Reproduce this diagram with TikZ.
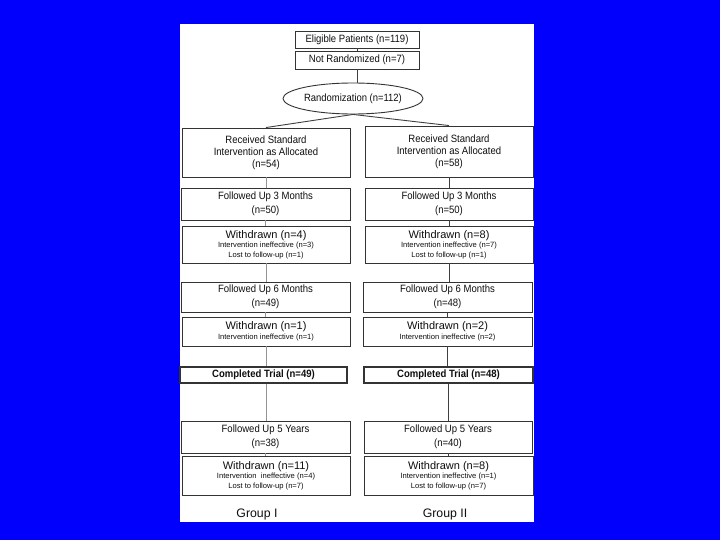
\documentclass[tikz,border=0pt]{standalone}
\usepackage{fontspec}
\setmainfont{Liberation Sans}
\newfontfamily\condfont[FakeStretch=0.9]{Liberation Sans}
\usetikzlibrary{shapes.geometric}
\definecolor{bgblue}{RGB}{0,0,252}
\definecolor{ink}{RGB}{15,15,15}
\tikzset{
  box/.style={draw=ink!85, line width=0.9pt, inner sep=0pt, align=center, text=ink,
    font=\condfont\fontsize{10.6}{14}\selectfont},
  recbox/.style={box, minimum width=168pt, minimum height=49pt, font=\condfont\fontsize{10.6}{12}\selectfont},
  fbox/.style={box, minimum width=169pt, minimum height=32pt},
  wbox/.style={box, minimum width=168pt, font=\fontsize{7.6}{9.5}\selectfont},
  topbox/.style={box, minimum width=124pt, minimum height=17pt},
  ctbox/.style={box, line width=1.8pt, minimum width=167pt, minimum height=16pt,
    font=\condfont\bfseries\fontsize{10.6}{12}\selectfont},
  ell/.style={draw=ink!85, line width=0.9pt, ellipse, inner sep=0pt, text=ink,
    minimum width=140pt, minimum height=31pt, font=\condfont\fontsize{10.5}{12}\selectfont},
  conn/.style={draw=ink!80, line width=0.9pt},
  connL/.style={draw=ink!45, line width=0.9pt},
  grp/.style={text=ink, font=\fontsize{12.3}{14}\selectfont, inner sep=0pt}
}
\newcommand{\wt}[1]{{\fontsize{11}{12}\selectfont #1}}
\begin{document}
\begin{tikzpicture}[x=1pt,y=-1pt]
\fill[bgblue] (0,0) rectangle (720,540);
\useasboundingbox (0,0) rectangle (720,540);
\fill[white] (180,24) rectangle (534,522);

\node[topbox] (elig) at (357,39.5) {Eligible Patients (n=119)};
\node[topbox, minimum height=18pt] (notr) at (357,60) {Not Randomized (n=7)};
\node[ell] (rand) at (353,98.5) {Randomization (n=112)};

\node[recbox] (recL) at (266,152.5) {Received Standard\\Intervention as Allocated\\(n=54)};
\node[recbox, minimum height=51pt] (recR) at (449,151.5) {Received Standard\\Intervention as Allocated\\(n=58)};

\node[fbox] (f3L) at (265.5,204) {Followed Up 3 Months\\(n=50)};
\node[fbox, minimum width=168pt] (f3R) at (449,204) {Followed Up 3 Months\\(n=50)};

\node[wbox, minimum height=37pt] (w1L) at (266,244.5) {\wt{Withdrawn (n=4)}\\Intervention ineffective (n=3)\\Lost to follow-up (n=1)};
\node[wbox, minimum height=37pt] (w1R) at (449,244.5) {\wt{Withdrawn (n=8)}\\Intervention ineffective (n=7)\\Lost to follow-up (n=1)};

\node[fbox, minimum height=30pt] (f6L) at (265.5,297) {Followed Up 6 Months\\(n=49)};
\node[fbox, minimum height=30pt] (f6R) at (447.5,297) {Followed Up 6 Months\\(n=48)};

\node[wbox, minimum height=29pt] (w2L) at (266,331.5) {\wt{Withdrawn (n=1)}\\Intervention ineffective (n=1)};
\node[wbox, minimum height=29pt, minimum width=169pt] (w2R) at (447.5,331.5) {\wt{Withdrawn (n=2)}\\Intervention ineffective (n=2)};

\node[ctbox] (ctL) at (263.5,375) {Completed Trial (n=49)};
\node[ctbox, minimum width=169pt] (ctR) at (448.5,375) {Completed Trial (n=48)};

\node[fbox] (f5L) at (265.5,437) {Followed Up 5 Years\\(n=38)};
\node[fbox, minimum width=168pt] (f5R) at (448,437) {Followed Up 5 Years\\(n=40)};

\node[wbox, minimum height=39pt] (w3L) at (266,475.5) {\wt{Withdrawn (n=11)}\\Intervention\ \ ineffective (n=4)\\Lost to follow-up (n=7)};
\node[wbox, minimum height=39pt, minimum width=169pt] (w3R) at (448.5,475.5) {\wt{Withdrawn (n=8)}\\Intervention ineffective (n=1)\\Lost to follow-up (n=7)};

\node[grp] (gL) at (257,514) {Group I};
\node[grp] (gR) at (445,514) {Group II};

% connectors
\draw[conn] (elig) -- (notr);
\draw[conn] (notr.south) -- (notr.south |- rand.north);
\draw[conn] (rand.south) -- (recL.north);
\draw[conn] (rand.south) -- (recR.north);

\draw[connL] (recL.south) -- (recL.south |- f3L.north);
\draw[connL] (f3L.south) -- (f3L.south |- w1L.north);
\draw[connL] (w1L.south) -- (w1L.south |- f6L.north);
\draw[connL] (f6L.south) -- (f6L.south |- w2L.north);
\draw[connL] (w2L.south) -- (w2L.south |- ctL.north);
\draw[connL] ([xshift=2.5pt]ctL.south) -- ([xshift=2.5pt]ctL.south |- f5L.north);
\draw[connL] (f5L.south) -- (f5L.south |- w3L.north);

\draw[conn] (recR.south) -- (recR.south |- f3R.north);
\draw[conn] (f3R.south) -- (f3R.south |- w1R.north);
\draw[conn] (w1R.south) -- (w1R.south |- f6R.north);
\draw[conn] (f6R.south) -- (f6R.south |- w2R.north);
\draw[conn] (w2R.south) -- (w2R.south |- ctR.north);
\draw[conn] (ctR.south) -- (ctR.south |- f5R.north);
\draw[conn] (f5R.south) -- (f5R.south |- w3R.north);
\end{tikzpicture}
\end{document}
